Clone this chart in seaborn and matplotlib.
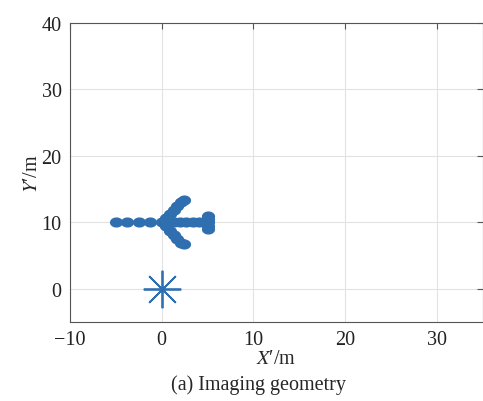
import numpy as np
import pandas as pd
import matplotlib
matplotlib.use("Agg")
import matplotlib.pyplot as plt
from matplotlib.path import Path
import seaborn as sns

# scatterer positions (m)
tail_x = [-5.0, -3.75, -2.5, -1.25, 0.0]
tail_y = [10, 10, 10, 10, 10]
body_x = [0.6, 1.3, 2.0, 2.7, 3.4, 4.1, 4.7]
body_y = [10, 10, 10, 10, 10, 10, 10]
upper_x = [0.5, 0.9, 1.3, 1.7, 2.1, 2.4]
upper_y = [10.6, 11.3, 11.9, 12.5, 13.1, 13.3]
lower_x = [0.5, 0.9, 1.3, 1.7, 2.1, 2.4]
lower_y = [9.4, 8.7, 8.1, 7.5, 6.9, 6.7]
end_x = [5, 5, 5, 5, 5]
end_y = [11, 10.5, 10, 9.5, 9]

radar_x = [0]
radar_y = [0]

xticks = [-10, 0, 10, 20, 30]
yticks = [0, 10, 20, 30, 40]

df = pd.DataFrame({
    "x": tail_x + body_x + upper_x + lower_x + end_x,
    "y": tail_y + body_y + upper_y + lower_y + end_y,
})

sns.set_style("white")
plt.rcParams["font.family"] = ["Liberation Serif", "DejaVu Serif"]
plt.rcParams["mathtext.fontset"] = "stix"

fig = plt.figure(figsize=(4.83, 4.02), dpi=100)
ax = fig.add_axes([0.145, 0.197, 0.854, 0.743])

# slightly wide ellipse marker
t = np.linspace(0, 2 * np.pi, 40)
ell = Path(np.column_stack([1.3 * np.cos(t), np.sin(t)]))

col = "#2f6fb0"
sns.scatterplot(data=df, x="x", y="y", marker=ell, s=90, color=col,
                edgecolor=col, linewidth=0, ax=ax, zorder=3)
ax.plot(radar_x, radar_y, linestyle="none", marker=(8, 2, 0), markersize=27,
        markeredgecolor=col, markeredgewidth=1.3, zorder=3)

ax.set_xlim(-10, 35)
ax.set_ylim(-5, 40)
ax.set_xticks(xticks)
ax.set_yticks(yticks)
ax.grid(True, color="#e2e2e2", linewidth=0.8)
ax.set_axisbelow(True)
for s in ax.spines.values():
    s.set_color("#555555")
    s.set_linewidth(0.8)
ax.tick_params(direction="in", length=4, top=True, right=True,
               labelsize=14.5, color="#555555", labelcolor="#222222", pad=6)
ax.set_xlabel("$X$′/m", fontsize=14.5, labelpad=0)
ax.set_ylabel("$Y$′/m", fontsize=14.5, labelpad=0)
fig.text(0.535, 0.03, "(a) Imaging geometry", ha="center", fontsize=14.5)

fig.savefig("out.png", dpi=100)
